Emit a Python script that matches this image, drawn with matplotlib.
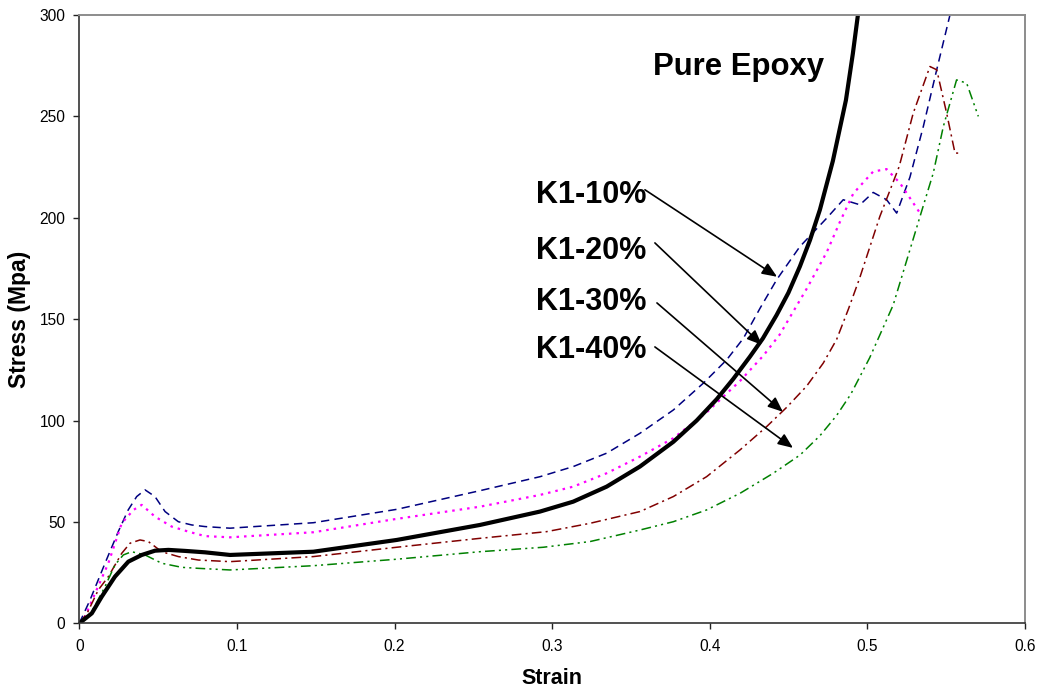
import matplotlib
matplotlib.use("Agg")
import matplotlib.pyplot as plt

plt.rcParams['font.family'] = ['Liberation Sans', 'DejaVu Sans']
plt.rcParams['lines.scale_dashes'] = False

# Compression stress-strain curves
epoxy_strain = [0, 0.0079, 0.0142, 0.0226, 0.0311, 0.0396, 0.048, 0.0565, 0.0671, 0.0797,
                0.0956, 0.1485, 0.2014, 0.2542, 0.2923, 0.3134, 0.3346, 0.3557, 0.3769, 0.3917,
                0.4044, 0.4149, 0.4255, 0.4337, 0.4424, 0.4499, 0.4572, 0.4636, 0.4699, 0.4781,
                0.4864, 0.4908, 0.494]
epoxy_stress = [0, 4.9, 13.1, 23, 30.4, 33.7, 35.8, 36.2, 35.7, 35,
                33.7, 35.3, 41.1, 48.5, 55.1, 60, 67.4, 77.3, 89.5, 100,
                110.5, 120.5, 131.5, 140.5, 152, 163, 176, 189, 204, 228,
                258, 281, 300]

k10_strain = [0, 0.0068, 0.0163, 0.0247, 0.031, 0.0364, 0.0417, 0.048, 0.0544, 0.0628,
              0.0713, 0.0797, 0.0956, 0.1485, 0.2014, 0.2542, 0.2923, 0.3134, 0.3346, 0.3557,
              0.3769, 0.3959, 0.4107, 0.4213, 0.432, 0.4425, 0.4572, 0.4742, 0.4847, 0.4953,
              0.5037, 0.5122, 0.5186, 0.527, 0.5355, 0.544, 0.5524]
k10_stress = [0, 11.5, 29.6, 45.2, 55.9, 62.5, 65.8, 62.5, 55.1, 50.1,
              48.5, 47.7, 46.9, 49.6, 56.2, 65.4, 72.3, 77.3, 83.9, 93.7,
              105.2, 118.4, 129.9, 140.5, 155.5, 169.5, 185.8, 199.8, 208.9, 206.4,
              212.5, 208.9, 202.3, 220, 245, 273, 300]

k20_strain = [0, 0.0036, 0.01, 0.0184, 0.0269, 0.0343, 0.0396, 0.048, 0.0586, 0.0692,
              0.0797, 0.0956, 0.1485, 0.2014, 0.2542, 0.2923, 0.3134, 0.3346, 0.3557, 0.3769,
              0.398, 0.4192, 0.434, 0.4445, 0.4509, 0.4615, 0.4742, 0.4826, 0.4911, 0.5037,
              0.5122, 0.5207, 0.5334]
k20_stress = [0, 3.3, 14.8, 29.6, 49.3, 55.9, 58.4, 52.6, 47.7, 45.2,
              43, 42.4, 44.9, 51.5, 57.5, 63.3, 67.4, 74, 82.2, 91.3,
              104, 119.5, 132, 142.5, 151, 165, 183, 198, 212, 222.8,
              224, 217.1, 202.3]

k30_strain = [0, 0.005, 0.012, 0.0184, 0.0269, 0.0322, 0.0385, 0.0438, 0.0523, 0.0628,
              0.0755, 0.0956, 0.1485, 0.2014, 0.2542, 0.2965, 0.324, 0.3557, 0.3769, 0.398,
              0.4192, 0.4361, 0.4488, 0.4615, 0.472, 0.4805, 0.488, 0.495, 0.5079, 0.5202,
              0.5291, 0.5397, 0.544, 0.5503, 0.5556, 0.5598]
k30_stress = [0, 5, 16.4, 23, 34.5, 39.5, 41.1, 40.3, 35.3, 32.9,
              31.2, 30.4, 32.9, 37.5, 41.9, 45.2, 49.3, 55.1, 62.5, 72.3,
              85.5, 97, 106.5, 117, 128.3, 140, 155, 170, 200.6, 225.3,
              251.6, 274.6, 273, 251.6, 231.9, 231.9]

k40_strain = [0, 0.006, 0.0163, 0.0226, 0.0279, 0.0332, 0.0417, 0.0523, 0.065, 0.0755,
              0.0956, 0.1485, 0.2014, 0.2542, 0.2944, 0.324, 0.3557, 0.3769, 0.398, 0.4192,
              0.4403, 0.4573, 0.4699, 0.4805, 0.4895, 0.5015, 0.5164, 0.5334, 0.5418, 0.5482,
              0.5566, 0.563, 0.5704]
k40_stress = [0, 3, 18.1, 28.8, 33.7, 35.3, 33.7, 29.6, 27.6, 27.1,
              26.3, 28.4, 31.6, 35.3, 37.5, 40.3, 46, 50.1, 55.9, 64.1,
              74, 83, 92.5, 102.5, 113, 131, 157, 200.6, 222, 245,
              268, 266.4, 250]

x_ticks = [0, 0.1, 0.2, 0.3, 0.4, 0.5, 0.6]
x_tick_labels = ['0', '0.1', '0.2', '0.3', '0.4', '0.5', '0.6']
y_ticks = [0, 50, 100, 150, 200, 250, 300]

# Curve labels: text, text anchor (strain, stress), arrow tail, arrow head
label_names = ['K1-10%', 'K1-20%', 'K1-30%', 'K1-40%']
label_pos = [(0.290, 207.4), (0.290, 179.8), (0.290, 154.6), (0.290, 130.9)]
arrow_tail = [(0.3589, 213.8), (0.3652, 187.6), (0.3665, 158.0), (0.3652, 136.3)]
arrow_head = [(0.4427, 170.9), (0.4331, 137.3), (0.4464, 104.3), (0.4528, 86.5)]

fig = plt.figure(figsize=(10.41, 6.92), dpi=100)
ax = fig.add_axes([0.0762, 0.0993, 0.9084, 0.8790])

ax.plot(k10_strain, k10_stress, color='#000080', lw=1.1, dashes=(6, 3.8))
ax.plot(k20_strain, k20_stress, color='#FF00FF', lw=1.6, dashes=(1.8, 3.6))
ax.plot(k30_strain, k30_stress, color='#800000', lw=1.1, dashes=(7, 3, 1.5, 3))
ax.plot(k40_strain, k40_stress, color='#008000', lw=1.1, dashes=(7, 3, 1.5, 3, 1.5, 3))
ax.plot(epoxy_strain, epoxy_stress, color='black', lw=3.0, solid_capstyle='butt',
        solid_joinstyle='round')

ax.set_xlim(0, 0.6)
ax.set_ylim(0, 300)
ax.set_xticks(x_ticks)
ax.set_xticklabels(x_tick_labels)
ax.set_yticks(y_ticks)
ax.tick_params(axis='both', direction='out', length=4, width=1, colors='#222222',
               labelsize=11.2, labelcolor='black')
ax.tick_params(axis='x', pad=7)
ax.tick_params(axis='y', pad=6)

for side in ('left', 'bottom'):
    ax.spines[side].set_color('#333333')
    ax.spines[side].set_linewidth(1.2)
for side in ('top', 'right'):
    ax.spines[side].set_color('#8c8c8c')
    ax.spines[side].set_linewidth(1.4)

ax.set_xlabel('Strain', fontsize=15.5, fontweight='bold')
ax.set_ylabel('Stress (Mpa)', fontsize=16.5, fontweight='bold')
ax.xaxis.set_label_coords(0.5, -0.073)
ax.yaxis.set_label_coords(-0.051, 0.5)

ax.text(0.364, 270.5, 'Pure Epoxy', fontsize=22.4, fontweight='bold',
        ha='left', va='baseline')

for name, pos, tail, head in zip(label_names, label_pos, arrow_tail, arrow_head):
    ax.text(pos[0], pos[1], name, fontsize=22, fontweight='bold',
            ha='left', va='baseline')
    ax.annotate('', xy=head, xytext=tail,
                arrowprops=dict(arrowstyle='-|>,head_length=0.6,head_width=0.25',
                                mutation_scale=15, lw=1.2, color='black',
                                shrinkA=0, shrinkB=0))

fig.savefig('out.png', dpi=100, facecolor='white')
